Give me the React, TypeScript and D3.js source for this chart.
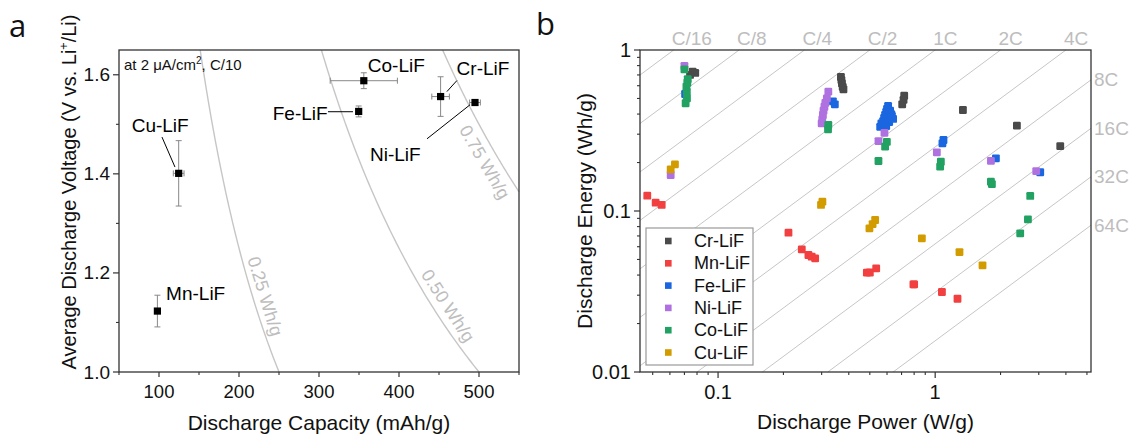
import React from 'react';
import * as d3 from 'd3';

// ---------- Panel a data ----------
const matNames = ['Cu-LiF', 'Mn-LiF', 'Fe-LiF', 'Co-LiF', 'Cr-LiF', 'Ni-LiF'];
const capacity = [124.6, 98.0, 349.6, 356.0, 452.0, 495.0];
const capacityErr = [6.7, 0, 3.0, 42.0, 11.0, 6.7];
const voltage = [1.401, 1.123, 1.526, 1.588, 1.556, 1.544];
const voltageErr = [0.066, 0.032, 0.011, 0.016, 0.040, 0.006];
const contourEnergy = [0.25, 0.5, 0.75];
const contourText = ['0.25 Wh/g', '0.50 Wh/g', '0.75 Wh/g'];
const capTicks = [100, 200, 300, 400, 500];
const capMinorTicks = [50, 150, 250, 350, 450, 550];
const voltTicks = [1.0, 1.2, 1.4, 1.6];
const voltMinorTicks = [1.1, 1.3, 1.5];

// ---------- Panel b data ----------
const rateHours = [16, 8, 4, 2, 1, 0.5, 0.25, 0.125, 0.0625, 0.03125, 0.015625];
const rateLabels = ['C/16', 'C/8', 'C/4', 'C/2', '1C', '2C', '4C', '8C', '16C', '32C', '64C'];
const powerTicks = [0.1, 1];
const powerTickLabels = ['0.1', '1'];
const powerMinorTicks = [0.05, 0.06, 0.07, 0.08, 0.09, 0.2, 0.3, 0.4, 0.5, 0.6, 0.7, 0.8, 0.9, 2, 3, 4, 5];
const energyTicks = [0.01, 0.1, 1];
const energyTickLabels = ['0.01', '0.1', '1'];
const energyMinorTicks = [0.02, 0.03, 0.04, 0.05, 0.06, 0.07, 0.08, 0.09, 0.2, 0.3, 0.4, 0.5, 0.6, 0.7, 0.8, 0.9];

const seriesNames = ['Cr-LiF', 'Mn-LiF', 'Fe-LiF', 'Ni-LiF', 'Co-LiF', 'Cu-LiF'];

const crPower = [0.0764, 0.0743, 0.0785, 0.368, 0.37, 0.372, 0.375, 0.378, 0.72, 0.715, 0.705, 1.342, 2.379, 3.767];
const crEnergy = [0.733, 0.70, 0.72, 0.68, 0.65, 0.62, 0.59, 0.57, 0.52, 0.49, 0.46, 0.424, 0.339, 0.253];

const mnPower = [0.0472, 0.0516, 0.055, 0.211, 0.243, 0.2607, 0.27, 0.28, 0.4845, 0.50, 0.535, 0.794, 0.80, 1.074, 1.267];
const mnEnergy = [0.1245, 0.1126, 0.109, 0.0733, 0.0578, 0.0533, 0.052, 0.0508, 0.0414, 0.0415, 0.044, 0.035, 0.035, 0.0314, 0.0285];

const fePower = [0.0705, 0.338, 0.345, 0.607, 0.600, 0.595, 0.588, 0.582, 0.576, 0.570, 0.627, 0.640, 0.632, 0.614, 0.620, 0.558, 0.565, 0.595, 1.092, 1.08, 1.904, 3.047];
const feEnergy = [0.533, 0.48, 0.46, 0.449, 0.43, 0.412, 0.395, 0.378, 0.362, 0.347, 0.40, 0.373, 0.39, 0.357, 0.42, 0.333, 0.35, 0.337, 0.276, 0.263, 0.2125, 0.174];

const niPower = [0.07, 0.0605, 0.322, 0.317, 0.312, 0.309, 0.306, 0.304, 0.302, 0.30, 0.584, 0.548, 1.018, 1.806, 2.92];
const niEnergy = [0.796, 0.1674, 0.551, 0.501, 0.47, 0.444, 0.42, 0.395, 0.37, 0.35, 0.306, 0.272, 0.2315, 0.205, 0.177];

const coPower = [0.07, 0.0725, 0.0722, 0.0715, 0.0718, 0.0719, 0.0709, 0.322, 0.321, 0.599, 0.588, 0.548, 1.062, 1.054, 1.806, 1.825, 2.74, 2.674, 2.464];
const coEnergy = [0.759, 0.66, 0.626, 0.592, 0.55, 0.501, 0.467, 0.342, 0.322, 0.269, 0.251, 0.2044, 0.2024, 0.1885, 0.152, 0.147, 0.124, 0.0888, 0.0727];

const cuPower = [0.0633, 0.0605, 0.3024, 0.298, 0.529, 0.515, 0.498, 0.8683, 1.294, 1.652];
const cuEnergy = [0.195, 0.1816, 0.1143, 0.109, 0.0879, 0.083, 0.078, 0.0677, 0.0556, 0.046];

const seriesPower = [crPower, mnPower, fePower, niPower, coPower, cuPower];
const seriesEnergy = [crEnergy, mnEnergy, feEnergy, niEnergy, coEnergy, cuEnergy];

// ---------- styles ----------
const seriesColors = ['#4a4a4a', '#f23f3f', '#1a66e0', '#b071e0', '#22a262', '#d29c00'];
const FONT = '"Liberation Sans", Arial, Helvetica, sans-serif';
const GREY_TXT = '#bdbdbd';
const LINE_GREY = '#c6c6c6';

const labelLayout: Record<string, any> = {
  'Cu-LiF': { dx: -47, dy: -41, anchor: 'start', leader: [-16.7, -36.3, -3.7, -6.3] },
  'Mn-LiF': { dx: 8.7, dy: -11, anchor: 'start' },
  'Fe-LiF': { dx: -31, dy: 8.3, anchor: 'end', leader: [-30.7, 0.3, -5.7, 0.3] },
  'Co-LiF': { dx: 4, dy: -8.4, anchor: 'start' },
  'Cr-LiF': { dx: 16, dy: -22, anchor: 'start', leader: [6.3, -5, 16.3, -16] },
  'Ni-LiF': { dx: -105, dy: 58, anchor: 'start', leader: [-48, 36.3, -5, 2.3] },
};
const contourLabelPos = [
  { v: 1.1455, off: 12 },
  { v: 1.1188, off: 13.5 },
  { v: 1.4376, off: -13.7 },
];

export default function App() {
  const W = 1131, H = 435;

  const xA = d3.scaleLinear().domain([50, 550]).range([119, 519]);
  const yA = d3.scaleLinear().domain([1.0, 1.65]).range([372, 50]);
  const xB = d3.scaleLog().domain([0.0437, 5.22]).range([640, 1091]);
  const yB = d3.scaleLog().domain([0.01, 1]).range([372, 50]);

  const [a0, a1] = xA.range();
  const [ab, at] = yA.range();
  const [b0, b1] = xB.range();
  const [bb, bt] = yB.range();

  const contourLine = d3.line<number[]>().x(d => xA(d[0])).y(d => yA(d[1])).curve(d3.curveMonotoneX);
  const contours = contourEnergy.map((E, i) => {
    const qMin = Math.max(50, (E * 1000) / 1.65);
    const qMax = Math.min(550, (E * 1000) / 1.0);
    const pts = d3.range(0, 81).map(k => {
      const q = qMin + ((qMax - qMin) * k) / 80;
      return [q, (E * 1000) / q];
    });
    const { v, off } = contourLabelPos[i];
    const dv = 0.005;
    const p1 = [xA((E * 1000) / (v + dv)), yA(v + dv)];
    const p2 = [xA((E * 1000) / (v - dv)), yA(v - dv)];
    const ang = Math.atan2(p2[1] - p1[1], p2[0] - p1[0]);
    const px = xA((E * 1000) / v), py = yA(v);
    const cx = px + Math.sin(ang) * off;
    const cy = py - Math.cos(ang) * off;
    return { d: contourLine(pts) || '', cx, cy, deg: (ang * 180) / Math.PI, text: contourText[i] };
  });

  const [pMin, pMax] = xB.domain();
  const [eMin, eMax] = yB.domain();
  const rates = rateHours.map((h, i) => {
    const pStart = Math.max(pMin, eMin / h);
    const pEnd = Math.min(pMax, eMax / h);
    return {
      x1: xB(pStart), y1: yB(pStart * h), x2: xB(pEnd), y2: yB(pEnd * h),
      label: rateLabels[i], top: eMax / h <= pMax, pTop: eMax / h, eRight: pMax * h,
    };
  });

  const frame = '#333';
  const ms = 7.8;

  return (
    <svg width={W} height={H} style={{ position: 'absolute', left: 0, top: 0, background: '#fff' }} fontFamily={FONT}>
      <rect x={0} y={0} width={W} height={H} fill="#fff" />
      {/* ================= Panel a ================= */}
      <text x={9} y={37} fontSize={31} fontFamily='"Open Sans", "Noto Sans", sans-serif' fill="#111">a</text>
      {contours.map((c, i) => (
        <g key={'c' + i}>
          <path d={c.d} fill="none" stroke={LINE_GREY} strokeWidth={1.4} />
          <text transform={`translate(${c.cx},${c.cy}) rotate(${c.deg})`} textAnchor="middle" dominantBaseline="central" fontSize={18} fill={GREY_TXT}>{c.text}</text>
        </g>
      ))}
      <rect x={a0} y={at} width={a1 - a0} height={ab - at} fill="none" stroke={frame} strokeWidth={1.3} />
      {capTicks.map(t => (
        <g key={'xa' + t}>
          <line x1={xA(t)} x2={xA(t)} y1={ab} y2={ab + 5} stroke={frame} strokeWidth={1.2} />
          <text x={xA(t)} y={398} textAnchor="middle" fontSize={18.5} fill="#111">{t}</text>
        </g>
      ))}
      {capMinorTicks.map(t => (
        <line key={'xam' + t} x1={xA(t)} x2={xA(t)} y1={ab} y2={ab + 3} stroke={frame} strokeWidth={1.1} />
      ))}
      {voltTicks.map(t => (
        <g key={'ya' + t}>
          <line x1={a0 - 6} x2={a0} y1={yA(t)} y2={yA(t)} stroke={frame} strokeWidth={1.2} />
          <text x={110} y={yA(t)} textAnchor="end" dominantBaseline="central" fontSize={19} fill="#111">{t.toFixed(1)}</text>
        </g>
      ))}
      {voltMinorTicks.map(t => (
        <line key={'yam' + t} x1={a0 - 3} x2={a0} y1={yA(t)} y2={yA(t)} stroke={frame} strokeWidth={1.1} />
      ))}
      <text x={(a0 + a1) / 2} y={430} textAnchor="middle" fontSize={21} fill="#111">Discharge Capacity (mAh/g)</text>
      <text transform={`translate(76,192) rotate(-90)`} textAnchor="middle" fontSize={20} fill="#111">
        Average Discharge Voltage (V vs. Li<tspan fontSize={12.5} dy={-8}>+</tspan><tspan dy={8}>/Li)</tspan>
      </text>
      <text x={124} y={70} fontSize={15} fill="#111">
        at 2 μA/cm<tspan fontSize={10} dy={-6}>2</tspan><tspan dy={6}>, C/10</tspan>
      </text>
      {matNames.map((m, i) => {
        const x = xA(capacity[i]), y = yA(voltage[i]);
        const xl = xA(capacity[i] - capacityErr[i]), xr = xA(capacity[i] + capacityErr[i]);
        const yt = yA(voltage[i] + voltageErr[i]), ybm = yA(voltage[i] - voltageErr[i]);
        const L = labelLayout[m];
        return (
          <g key={m}>
            <line x1={x} x2={x} y1={yt} y2={ybm} stroke="#888" strokeWidth={1} />
            <line x1={x - 3} x2={x + 3} y1={yt} y2={yt} stroke="#888" strokeWidth={1} />
            <line x1={x - 3} x2={x + 3} y1={ybm} y2={ybm} stroke="#888" strokeWidth={1} />
            {capacityErr[i] > 0 && (
              <g>
                <line x1={xl} x2={xr} y1={y} y2={y} stroke="#888" strokeWidth={1} />
                <line x1={xl} x2={xl} y1={y - 3} y2={y + 3} stroke="#888" strokeWidth={1} />
                <line x1={xr} x2={xr} y1={y - 3} y2={y + 3} stroke="#888" strokeWidth={1} />
              </g>
            )}
            <rect x={x - 3.6} y={y - 3.6} width={7.2} height={7.2} fill="#000" />
            {L.leader && (
              <line x1={x + L.leader[0]} y1={y + L.leader[1]} x2={x + L.leader[2]} y2={y + L.leader[3]} stroke="#000" strokeWidth={1} />
            )}
            <text x={x + L.dx} y={y + L.dy} textAnchor={L.anchor} fontSize={19} fill="#000">{m}</text>
          </g>
        );
      })}

      {/* ================= Panel b ================= */}
      <text x={536} y={35} fontSize={31} fontFamily='"Open Sans", "Noto Sans", sans-serif' fill="#111">b</text>
      {rates.map((r, i) => (
        <g key={'r' + i}>
          <line x1={r.x1} y1={r.y1} x2={r.x2} y2={r.y2} stroke={LINE_GREY} strokeWidth={1} />
          {r.top ? (
            <text x={xB(r.pTop) - 2} y={45} fontSize={19} fill={GREY_TXT}>{r.label}</text>
          ) : (
            <text x={b1 + 3} y={yB(r.eRight)} dominantBaseline="central" fontSize={19} fill={GREY_TXT}>{r.label}</text>
          )}
        </g>
      ))}
      {seriesNames.map((s, si) => (
        <g key={'s' + s}>
          {seriesPower[si].map((p, k) => (
            <rect key={k} x={xB(p) - ms / 2} y={yB(seriesEnergy[si][k]) - ms / 2} width={ms} height={ms} rx={1.2} fill={seriesColors[si]} />
          ))}
        </g>
      ))}
      <rect x={b0} y={bt} width={b1 - b0} height={bb - bt} fill="none" stroke={frame} strokeWidth={1.3} />
      {powerTicks.map((t, i) => (
        <g key={'xb' + t}>
          <line x1={xB(t)} x2={xB(t)} y1={bb} y2={bb + 6} stroke={frame} strokeWidth={1.2} />
          <text x={xB(t)} y={399} textAnchor="middle" fontSize={20} fill="#111">{powerTickLabels[i]}</text>
        </g>
      ))}
      {powerMinorTicks.map(t => (
        <line key={'xbm' + t} x1={xB(t)} x2={xB(t)} y1={bb} y2={bb + 3} stroke={frame} strokeWidth={1.1} />
      ))}
      {energyTicks.map((t, i) => (
        <g key={'yb' + t}>
          <line x1={b0 - 6} x2={b0} y1={yB(t)} y2={yB(t)} stroke={frame} strokeWidth={1.2} />
          <text x={631} y={yB(t)} textAnchor="end" dominantBaseline="central" fontSize={20} fill="#111">{energyTickLabels[i]}</text>
        </g>
      ))}
      {energyMinorTicks.map(t => (
        <line key={'ybm' + t} x1={b0 - 3} x2={b0} y1={yB(t)} y2={yB(t)} stroke={frame} strokeWidth={1.1} />
      ))}
      <text x={(b0 + b1) / 2} y={429} textAnchor="middle" fontSize={21} fill="#111">Discharge Power (W/g)</text>
      <text transform={`translate(592,${(bt + bb) / 2}) rotate(-90)`} textAnchor="middle" fontSize={21} fill="#111">Discharge Energy (Wh/g)</text>

      {/* legend */}
      <rect x={646} y={228} width={107} height={137} fill="#fff" stroke="#999" strokeWidth={1.2} />
      {seriesNames.map((s, i) => {
        const cy = 241 + i * 22.3;
        return (
          <g key={'lg' + s}>
            <rect x={665} y={cy - 3.3} width={6.6} height={6.6} fill={seriesColors[i]} />
            <text x={694} y={cy} dominantBaseline="central" fontSize={18} fill="#111">{s}</text>
          </g>
        );
      })}
    </svg>
  );
}
